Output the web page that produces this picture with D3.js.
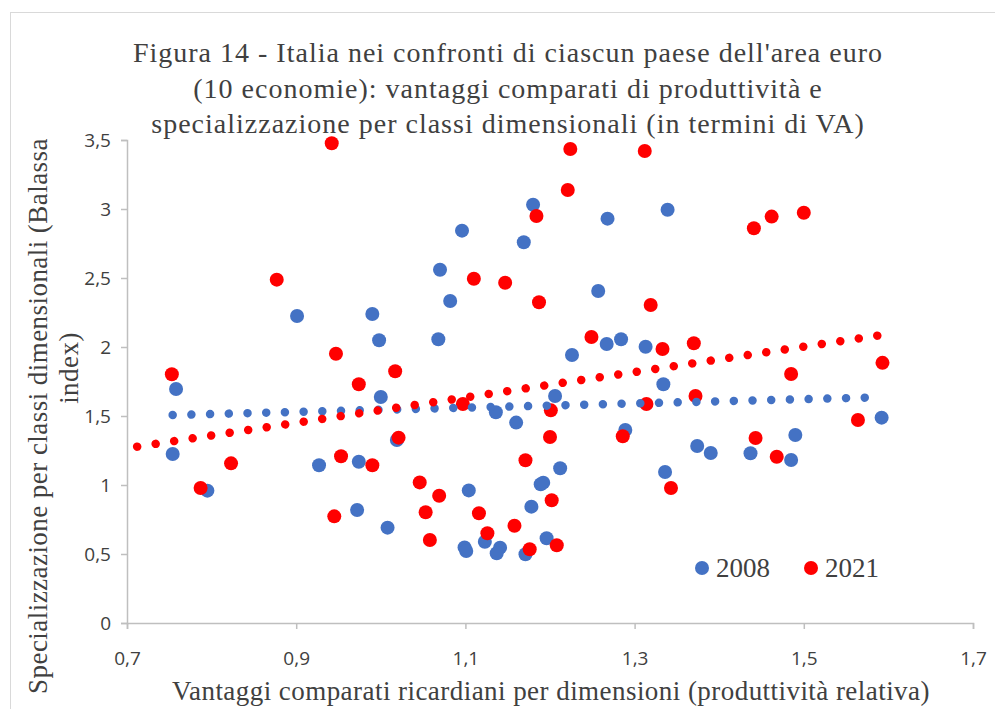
<!DOCTYPE html>
<html>
<head>
<meta charset="utf-8">
<script src="https://cdn.jsdelivr.net/npm/d3@7"></script>
<style>
  body { margin: 0; background: #fff; }
</style>
</head>
<body>
<div id="chart"></div>
<script>
// 2008 series: [relative productivity, Balassa index]
var x2008 = [0.754,0.758,0.795,0.901,0.990,0.998,0.927,0.974,0.972,1.008,1.000,1.019,1.096,1.180,1.268,1.339,1.169,1.070,1.082,1.257,1.068,1.267,1.284,1.226,1.313,1.136,1.160,1.206,1.334,1.289,1.212,1.336,1.104,1.123,1.099,1.101,1.141,1.137,1.178,1.189,1.192,1.196,1.171,1.592,1.374,1.390,1.437,1.490,1.485];
var y2008 = [1.225,1.696,0.959,2.225,2.239,2.049,1.143,1.169,0.819,0.691,1.638,1.326,2.843,3.031,2.930,2.995,2.759,2.560,2.333,2.406,2.056,2.022,2.056,1.942,2.002,1.527,1.452,1.645,1.730,1.399,1.121,1.094,0.961,0.589,0.548,0.522,0.546,0.505,0.843,1.005,1.017,0.614,0.498,1.488,1.283,1.232,1.230,1.362,1.181];

// 2021 series
var x2021 = [0.942,0.877,0.947,0.753,0.974,0.787,0.823,0.953,0.990,0.945,1.017,1.021,1.184,1.224,1.312,1.221,1.110,1.147,1.187,1.319,1.249,1.333,1.097,1.201,1.200,1.314,1.286,1.171,1.343,1.046,1.069,1.053,1.058,1.116,1.126,1.158,1.202,1.176,1.208,1.372,1.485,1.593,1.564,1.443,1.468,1.441,1.462,1.500,1.370];
var y2021 = [3.476,2.488,1.951,1.802,1.730,0.978,1.157,1.208,1.143,0.773,1.824,1.343,2.949,3.435,3.420,3.138,2.495,2.466,2.324,2.304,2.072,1.986,1.587,1.541,1.348,1.587,1.353,1.179,0.978,1.019,0.922,0.802,0.601,0.795,0.650,0.705,0.889,0.534,0.563,1.645,1.804,1.885,1.471,1.341,1.205,2.860,2.945,2.973,2.027];

// linear trendlines (end points)
var trend2008 = [[0.754, 1.507], [1.592, 1.636]];
var trend2021 = [[0.712, 1.278], [1.593, 2.088]];

var xTicks = [0.7, 0.9, 1.1, 1.3, 1.5, 1.7];
var yTicks = [0, 0.5, 1, 1.5, 2, 2.5, 3, 3.5];
var seriesNames = ["2008", "2021"];
var seriesColors = ["#4472C4", "#FF0000"];

var titleLines = [
  "Figura 14 - Italia nei confronti di ciascun paese dell'area euro",
  "(10 economie): vantaggi comparati di produttività e",
  "specializzazione per classi dimensionali (in termini di VA)"
];
var yTitleLines = ["Specializzazione per classi dimensionali (Balassa", "index)"];
var xTitle = "Vantaggi comparati ricardiani per dimensioni (produttività relativa)";

var W = 995, H = 709;
var margin = {top: 140, right: 22, bottom: 86, left: 127};
var w = W - margin.left - margin.right;
var h = H - margin.top - margin.bottom;

var serif = "'Liberation Serif', 'DejaVu Serif', serif";
var sans = "'Open Sans', 'Noto Sans', sans-serif";
var textCol = "#404040";
var axisCol = "#BFBFBF";

var svg = d3.select("#chart")
    .append("svg")
    .attr("width", W)
    .attr("height", H);

// outer chart frame
svg.append("rect")
    .attr("x", 10.5).attr("y", 12.5)
    .attr("width", 1000).attr("height", 720)
    .attr("fill", "#fff")
    .attr("stroke", "#D9D9D9")
    .attr("stroke-width", 1);

var g = svg.append("g")
    .attr("transform", "translate(" + margin.left + "," + margin.top + ")");

var x = d3.scaleLinear().domain([0.7, 1.7]).range([0, w]);
var y = d3.scaleLinear().domain([0, 3.5]).range([h, 0]);

var fmt = function(d) { return String(d).replace(".", ","); };

// axes
var xAxis = g.append("g")
    .attr("transform", "translate(0," + h + ")")
    .call(d3.axisBottom(x).tickValues(xTicks).tickSize(6).tickPadding(23).tickFormat(fmt));
var yAxis = g.append("g")
    .call(d3.axisLeft(y).tickValues(yTicks).tickSize(6).tickPadding(10).tickFormat(fmt));

[xAxis, yAxis].forEach(function(a) {
  a.select(".domain").attr("stroke", axisCol).attr("stroke-width", 1.5);
  a.selectAll(".tick line").attr("stroke", axisCol).attr("stroke-width", 1.5);
  a.selectAll(".tick text")
      .attr("fill", textCol)
      .attr("font-family", sans)
      .attr("font-size", "19px");
});

// points
var pts2008 = x2008.map(function(d, i) { return [d, y2008[i]]; });
var pts2021 = x2021.map(function(d, i) { return [d, y2021[i]]; });

[pts2008, pts2021].forEach(function(pts, k) {
  g.append("g").selectAll("circle")
      .data(pts)
      .enter()
      .append("circle")
      .attr("cx", function(d) { return x(d[0]); })
      .attr("cy", function(d) { return y(d[1]); })
      .attr("r", 7)
      .attr("fill", seriesColors[k]);
});

// dotted trendlines
var line = d3.line()
    .x(function(d) { return x(d[0]); })
    .y(function(d) { return y(d[1]); });

[trend2008, trend2021].forEach(function(t, k) {
  g.append("path")
      .attr("d", line(t))
      .attr("fill", "none")
      .attr("stroke", seriesColors[k])
      .attr("stroke-width", 8.5)
      .attr("stroke-linecap", "round")
      .attr("stroke-dasharray", "0.01 18.7");
});

// title
svg.append("text")
    .attr("text-anchor", "middle")
    .attr("font-family", serif)
    .attr("font-size", "28px")
    .attr("letter-spacing", "1px")
    .attr("fill", textCol)
    .selectAll("tspan")
    .data(titleLines)
    .enter()
    .append("tspan")
    .attr("x", 508)
    .attr("y", function(d, i) { return 62 + i * 35.5; })
    .text(function(d) { return d; });

// y axis title
svg.append("g")
    .selectAll("text")
    .data(yTitleLines)
    .enter()
    .append("text")
    .attr("text-anchor", "middle")
    .attr("font-family", serif)
    .attr("font-size", "27px")
    .attr("letter-spacing", "0.45px")
    .attr("fill", textCol)
    .attr("transform", function(d, i) {
      return i === 0 ? "translate(47,416) rotate(-90)" : "translate(78,368) rotate(-90)";
    })
    .text(function(d) { return d; });

// x axis title
svg.append("text")
    .attr("x", 551)
    .attr("y", 700)
    .attr("text-anchor", "middle")
    .attr("font-family", serif)
    .attr("font-size", "27px")
    .attr("letter-spacing", "0.45px")
    .attr("fill", textCol)
    .text(xTitle);

// legend
var legend = svg.append("g")
    .selectAll("g")
    .data(seriesNames)
    .enter()
    .append("g")
    .attr("transform", function(d, i) { return "translate(" + (702 + i * 109) + ",568)"; });

legend.append("circle")
    .attr("r", 7)
    .attr("fill", function(d, i) { return seriesColors[i]; });

legend.append("text")
    .attr("x", 14)
    .attr("y", 9)
    .attr("font-family", serif)
    .attr("font-size", "27px")
    .attr("fill", textCol)
    .text(function(d) { return d; });
</script>
</body>
</html>
